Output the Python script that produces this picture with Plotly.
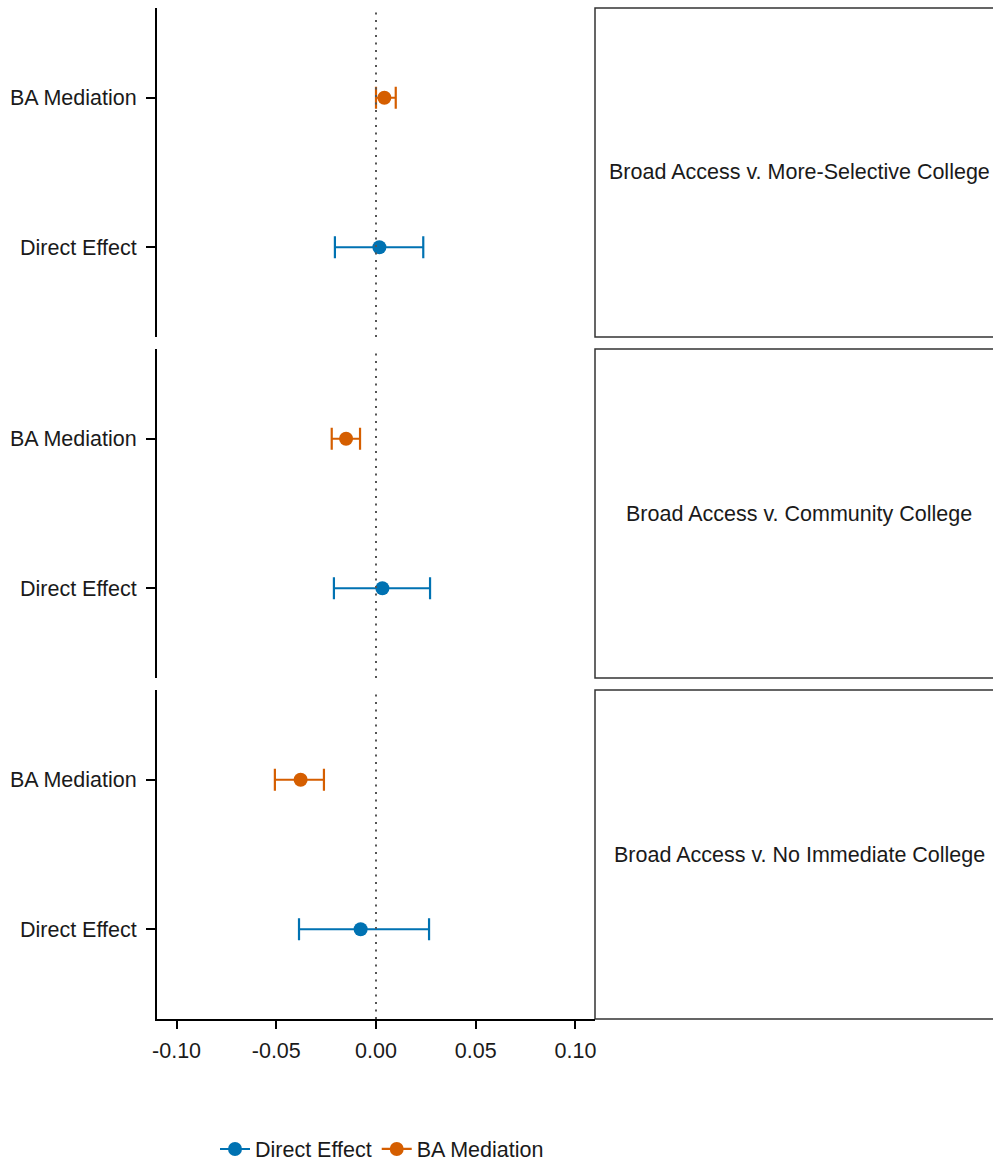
import plotly.graph_objects as go

# ---- data ----
panels = ["Broad Access v. More-Selective College",
          "Broad Access v. Community College",
          "Broad Access v. No Immediate College"]
series = ["Direct Effect", "BA Mediation"]
colors = {"Direct Effect": "#0072B2", "BA Mediation": "#D55E00"}

direct_est = [0.0017, 0.0032, -0.0077]
direct_lo = [-0.0206, -0.0211, -0.0386]
direct_hi = [0.0237, 0.0271, 0.0266]

med_est = [0.0042, -0.0150, -0.0378]
med_lo = [0.0000, -0.0222, -0.0507]
med_hi = [0.0099, -0.0080, -0.0261]

xticks = [-0.10, -0.05, 0.00, 0.05, 0.10]
xtick_labels = ["-0.10", "-0.05", "0.00", "0.05", "0.10"]
ycats = ["Direct Effect", "BA Mediation"]

# ---- layout geometry ----
W, H = 993, 1165
L, R, T, B = 157, 595, 8, 1019
plot_h = B - T
panel_h = 329
gap = (plot_h - 3 * panel_h) / 2
FS = 21.5

FONT = "Liberation Sans, Arial, Helvetica, sans-serif"
fig = go.Figure()

vals = {"Direct Effect": (direct_est, direct_lo, direct_hi),
        "BA Mediation": (med_est, med_lo, med_hi)}

domains = []
for i in range(3):
    top_px = T + i * (panel_h + gap)
    bot_px = top_px + panel_h
    domains.append([(B - bot_px) / plot_h, (B - top_px) / plot_h])

for i in range(3):
    xa = "x" if i == 0 else f"x{i+1}"
    ya = "y" if i == 0 else f"y{i+1}"
    for s in series:
        est, lo, hi = vals[s]
        fig.add_trace(go.Scatter(
            x=[est[i]], y=[ycats.index(s)], xaxis=xa, yaxis=ya,
            mode="lines+markers", name=s, legendgroup=s,
            showlegend=(i == 0),
            marker=dict(color=colors[s], size=14),
            line=dict(color=colors[s], width=2.2),
            error_x=dict(type="data", symmetric=False,
                         array=[hi[i] - est[i]], arrayminus=[est[i] - lo[i]],
                         color=colors[s], thickness=2.2, width=11),
        ))

layout = dict(
    width=W, height=H,
    margin=dict(l=L, r=W - R, t=T, b=H - B, autoexpand=False),
    paper_bgcolor="white", plot_bgcolor="white",
    font=dict(family=FONT, size=FS, color="#1a1a1a"),
    showlegend=True,
    legend=dict(orientation="h", xref="paper", x=(382 - L) / (R - L),
                xanchor="center", yref="paper",
                y=-(1149 - B) / plot_h, yanchor="middle",
                font=dict(size=FS, color="#1a1a1a"),
                itemwidth=30, tracegroupgap=0, bgcolor="rgba(0,0,0,0)"),
)

shapes = []
annotations = []
for i in range(3):
    xkey = "xaxis" if i == 0 else f"xaxis{i+1}"
    ykey = "yaxis" if i == 0 else f"yaxis{i+1}"
    ya = "y" if i == 0 else f"y{i+1}"
    layout[xkey] = dict(
        domain=[0, 1], range=[-0.1098, 0.1098], anchor=ya,
        tickvals=xticks, ticktext=xtick_labels,
        showticklabels=(i == 2), ticks="outside" if i == 2 else "",
        ticklen=8, tickwidth=2, tickcolor="black", ticklabelstandoff=3,
        showline=(i == 2), linecolor="black", linewidth=2,
        showgrid=False, zeroline=False,
        tickfont=dict(size=FS, color="#1a1a1a"),
        matches=None if i == 0 else "x",
    )
    layout[ykey] = dict(
        domain=domains[i], range=[-0.6, 1.6], anchor="x" if i == 0 else f"x{i+1}",
        tickvals=[0, 1], ticktext=ycats,
        ticks="outside", ticklen=9, tickwidth=2, tickcolor="black",
        ticklabelstandoff=5,
        showline=True, linecolor="black", linewidth=2,
        showgrid=False, zeroline=False,
        tickfont=dict(size=FS, color="#1a1a1a"),
    )
    # dotted reference line at zero
    shapes.append(dict(type="line", xref="x" if i == 0 else f"x{i+1}",
                       yref=f"{ya} domain", x0=0, x1=0, y0=0, y1=1,
                       line=dict(color="#555555", width=2, dash="2px,5.5px")))
    # strip box on the right
    shapes.append(dict(type="rect", xref="paper", yref="paper",
                       x0=1.0, x1=(1003 - L) / (R - L),
                       y0=domains[i][0], y1=domains[i][1],
                       line=dict(color="#333333", width=1.5),
                       fillcolor="white", layer="below"))
    annotations.append(dict(text=panels[i], xref="paper", yref="paper",
                            x=(799 - L) / (R - L), y=sum(domains[i]) / 2,
                            showarrow=False, xanchor="center", yanchor="middle",
                            font=dict(size=FS, color="#1a1a1a")))

layout["shapes"] = shapes
layout["annotations"] = annotations
fig.update_layout(**layout)
fig.write_html("out.html")
